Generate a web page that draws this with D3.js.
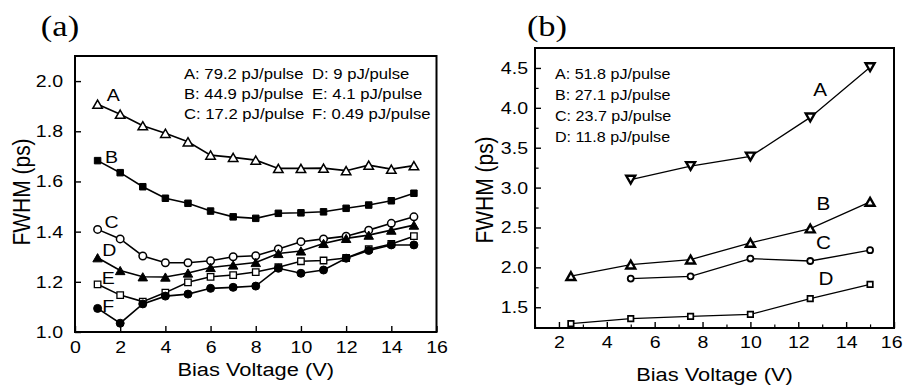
<!DOCTYPE html>
<html><head><meta charset="utf-8">
<script src="https://cdn.jsdelivr.net/npm/d3@7"></script>
<style>
body{margin:0;background:#fff;}
svg{display:block;}
text{font-family:"Liberation Sans",Arial,sans-serif;fill:#000;}
</style></head>
<body>
<svg id="chart" width="903" height="386"></svg>
<script>
// ---------- Panel (a) data ----------
const aVoltage = [1,2,3,4,5,6,7,8,9,10,11,12,13,14,15];
const aSeriesA = [1.908,1.868,1.822,1.792,1.758,1.705,1.696,1.685,1.652,1.652,1.653,1.643,1.665,1.649,1.663];
const aSeriesB = [1.683,1.635,1.579,1.533,1.513,1.482,1.459,1.453,1.473,1.475,1.479,1.493,1.506,1.523,1.553];
const aSeriesC = [1.409,1.371,1.303,1.276,1.276,1.284,1.300,1.304,1.331,1.360,1.371,1.382,1.406,1.433,1.459];
const aSeriesD = [1.296,1.245,1.220,1.219,1.235,1.257,1.267,1.277,1.313,1.323,1.353,1.373,1.386,1.406,1.426];
const aSeriesE = [1.190,1.147,1.121,1.157,1.198,1.220,1.227,1.239,1.258,1.282,1.285,1.295,1.330,1.351,1.382];
const aSeriesF = [1.094,1.035,1.112,1.143,1.151,1.174,1.178,1.183,1.254,1.234,1.247,1.294,1.325,1.347,1.347];
const aNames = ["A","B","C","D","E","F"];
const aLegend = ["A: 79.2 pJ/pulse","B: 44.9 pJ/pulse","C: 17.2 pJ/pulse","D: 9 pJ/pulse","E: 4.1 pJ/pulse","F: 0.49 pJ/pulse"];
const aLabelX = [1.69,1.62,1.62,1.52,1.47,1.47];
const aLabelY = [1.944,1.698,1.439,1.329,1.214,1.104];
const aXTicks = [0,2,4,6,8,10,12,14,16];
const aYTicks = [1.0,1.2,1.4,1.6,1.8,2.0];

// ---------- Panel (b) data ----------
const bVoltageA = [5,7.5,10,12.5,15];
const bSeriesA = [3.10,3.27,3.39,3.88,4.51];
const bVoltageB = [2.5,5,7.5,10,12.5,15];
const bSeriesB = [1.89,2.035,2.098,2.307,2.487,2.822];
const bVoltageC = [5,7.5,10,12.5,15];
const bSeriesC = [1.86,1.888,2.11,2.08,2.215];
const bVoltageD = [2.5,5,7.5,10,12.5,15];
const bSeriesD = [1.294,1.357,1.386,1.41,1.608,1.788];
const bNames = ["A","B","C","D"];
const bLegend = ["A: 51.8 pJ/pulse","B: 27.1 pJ/pulse","C: 23.7 pJ/pulse","D: 11.8 pJ/pulse"];
const bLabelX = [12.91,13.05,13.05,13.16];
const bLabelY = [4.225,2.80,2.307,1.859];
const bXTicks = [2,4,6,8,10,12,14,16];
const bXMinor = [1,3,5,7,9,11,13,15];
const bYTicks = [1.5,2.0,2.5,3.0,3.5,4.0,4.5];
const bYMinor = [1.25,1.75,2.25,2.75,3.25,3.75,4.25,4.75];

const STRETCH = 1.15;
const svg = d3.select("#chart");

// custom marker shapes: size = side length / diameter
const triUp = {draw(ctx,s){ const h=s*Math.sqrt(3)/2; ctx.moveTo(0,-h/2); ctx.lineTo(s/2,h/2); ctx.lineTo(-s/2,h/2); ctx.closePath(); }};
const triDown = {draw(ctx,s){ const h=s*Math.sqrt(3)/2; ctx.moveTo(0,h/2); ctx.lineTo(s/2,-h/2); ctx.lineTo(-s/2,-h/2); ctx.closePath(); }};
const square = {draw(ctx,s){ ctx.rect(-s/2,-s/2,s,s); }};
const circle = {draw(ctx,s){ ctx.moveTo(s/2,0); ctx.arc(0,0,s/2,0,2*Math.PI); }};

function stretch(sel){
  sel.each(function(){
    const t=d3.select(this);
    const x=+t.attr("x")||0, y=+t.attr("y")||0;
    t.attr("x",0).attr("y",0).attr("transform",`translate(${x},${y}) scale(${STRETCH},1)`);
  });
}

function panel(opt){
  const g = svg.append("g");
  const x = d3.scaleLinear().domain(opt.xDomain).range([opt.left, opt.right]);
  const y = d3.scaleLinear().domain(opt.yDomain).range([opt.bottom, opt.top]);

  const xa = d3.axisBottom(x).tickValues(opt.xTicks).tickSize(-opt.tick).tickPadding(opt.xPad).tickFormat(d3.format("d"));
  const gx = g.append("g").attr("transform",`translate(0,${opt.bottom})`).call(xa);
  const ya = d3.axisLeft(y).tickValues(opt.yTicks).tickSize(-opt.tick).tickPadding(opt.yPad).tickFormat(d3.format(".1f"));
  const gy = g.append("g").attr("transform",`translate(${opt.left},0)`).call(ya);
  [gx,gy].forEach(a=>{
    a.select(".domain").remove();
    a.selectAll(".tick line").attr("stroke","#000").attr("stroke-width",1.4);
    a.selectAll(".tick text").style("font-family",'"Liberation Sans",Arial,sans-serif').style("font-size",opt.tickFont+"px").attr("fill","#000");
  });
  if(opt.lastXEnd){
    const last = gx.selectAll(".tick text").filter(d=>d===opt.xTicks[opt.xTicks.length-1]);
    last.attr("text-anchor","end").attr("x", opt.lastXEnd - opt.right);
  }
  stretch(gx.selectAll(".tick text"));
  stretch(gy.selectAll(".tick text"));
  if(opt.xMinor){
    const gm = g.append("g").attr("transform",`translate(0,${opt.bottom})`)
      .call(d3.axisBottom(x).tickValues(opt.xMinor).tickSize(-opt.tick*0.6).tickFormat(""));
    gm.select(".domain").remove(); gm.selectAll(".tick line").attr("stroke","#000").attr("stroke-width",1.2);
  }
  if(opt.yMinor){
    const gm = g.append("g").attr("transform",`translate(${opt.left},0)`)
      .call(d3.axisLeft(y).tickValues(opt.yMinor.filter(v=>v<opt.yDomain[1])).tickSize(-opt.tick*0.6).tickFormat(""));
    gm.select(".domain").remove(); gm.selectAll(".tick line").attr("stroke","#000").attr("stroke-width",1.2);
  }
  g.append("rect").attr("x",opt.left).attr("y",opt.top)
    .attr("width",opt.right-opt.left).attr("height",opt.bottom-opt.top)
    .attr("fill","none").attr("stroke","#000").attr("stroke-width",opt.frame);

  const line = d3.line().x(d=>x(d[0])).y(d=>y(d[1]));
  opt.series.forEach(s=>{
    const pts = s.xs.map((v,i)=>[v,s.ys[i]]);
    g.append("path").attr("d",line(pts)).attr("fill","none").attr("stroke","#000").attr("stroke-width",opt.lineW);
  });
  opt.series.forEach(s=>{
    const pts = s.xs.map((v,i)=>[v,s.ys[i]]);
    g.selectAll(null).data(pts).enter().append("path")
      .attr("transform",d=>`translate(${x(d[0])},${y(d[1])})`)
      .attr("d",d3.symbol().type(s.sym).size(s.size)())
      .attr("fill",s.filled?"#000":"#fff").attr("stroke","#000").attr("stroke-width",s.sw)
      .attr("stroke-linejoin","miter");
  });
  const labels = g.selectAll(null).data(opt.names).enter().append("text")
    .attr("x",(d,i)=>x(opt.labelX[i])).attr("y",(d,i)=>y(opt.labelY[i]))
    .attr("text-anchor","middle").attr("dy","0.36em")
    .style("font-size",opt.labelFont+"px").text(d=>d);
  stretch(labels);
  const leg = g.selectAll(null).data(opt.legend).enter().append("text")
    .attr("x",(d,i)=>opt.legendX[Math.floor(i/opt.legendRows)])
    .attr("y",(d,i)=>opt.legendY0+(i%opt.legendRows)*opt.legendDy)
    .attr("dy","0.36em").style("font-size",opt.legendFont+"px").text(d=>d);
  stretch(leg);
  const xt = g.append("text").attr("x",(opt.left+opt.right)/2).attr("y",opt.xTitleY)
    .attr("text-anchor","middle").attr("dy","0.36em").style("font-size",opt.titleFont+"px").text("Bias Voltage (V)");
  stretch(xt);
  g.append("text").attr("transform",`translate(${opt.yTitleX},${opt.yTitleCY}) rotate(-90) scale(1,${STRETCH})`)
    .attr("text-anchor","middle").attr("dy","0.36em").style("font-size",opt.yTitleFont+"px").text("FWHM (ps)");
  const pt = g.append("text").attr("x",opt.panelX).attr("y",opt.panelY)
    .attr("text-anchor","middle").style("font-family",'"Liberation Serif","Times New Roman",serif')
    .style("font-size","30px").text(opt.panelName);
  stretch(pt);
}

panel({
  left:75, right:436.5, top:56, bottom:332,
  xDomain:[0,16], yDomain:[1.0,2.1],
  xTicks:aXTicks, yTicks:aYTicks, tick:6, xPad:9, yPad:12, tickFont:17,
  frame:2, lineW:1.6,
  series:[
    {xs:aVoltage, ys:aSeriesA, sym:triUp, size:9.5, filled:false, sw:1.5},
    {xs:aVoltage, ys:aSeriesB, sym:square, size:6.5, filled:true, sw:1},
    {xs:aVoltage, ys:aSeriesC, sym:circle, size:7.5, filled:false, sw:1.5},
    {xs:aVoltage, ys:aSeriesD, sym:triUp, size:9.5, filled:true, sw:1},
    {xs:aVoltage, ys:aSeriesE, sym:square, size:6.5, filled:false, sw:1.3},
    {xs:aVoltage, ys:aSeriesF, sym:circle, size:8, filled:true, sw:1}
  ],
  names:aNames, labelX:aLabelX, labelY:aLabelY, labelFont:17,
  legend:aLegend, legendRows:3, legendX:[184,312], legendY0:73.5, legendDy:20, legendFont:14.5,
  xTitleY:369, yTitleX:21, yTitleCY:192, titleFont:19, yTitleFont:21,
  panelName:"(a)", panelX:60, panelY:36
});

panel({
  left:535, right:894, top:48, bottom:328,
  xDomain:[1,16], yDomain:[1.24,4.75],
  xTicks:bXTicks, yTicks:bYTicks, xMinor:bXMinor, yMinor:bYMinor, tick:6, xPad:8, yPad:7, tickFont:17,
  frame:2, lineW:1.3, lastXEnd:902,
  series:[
    {xs:bVoltageA, ys:bSeriesA, sym:triDown, size:9, filled:false, sw:2.4},
    {xs:bVoltageB, ys:bSeriesB, sym:triUp, size:9, filled:false, sw:2.4},
    {xs:bVoltageC, ys:bSeriesC, sym:circle, size:6, filled:false, sw:1.8},
    {xs:bVoltageD, ys:bSeriesD, sym:square, size:5.5, filled:false, sw:1.7}
  ],
  names:bNames, labelX:bLabelX, labelY:bLabelY, labelFont:18,
  legend:bLegend, legendRows:4, legendX:[555], legendY0:73.5, legendDy:21.3, legendFont:14,
  xTitleY:374, yTitleX:484, yTitleCY:190, titleFont:19, yTitleFont:21,
  panelName:"(b)", panelX:547, panelY:36
});
</script>
</body></html>
